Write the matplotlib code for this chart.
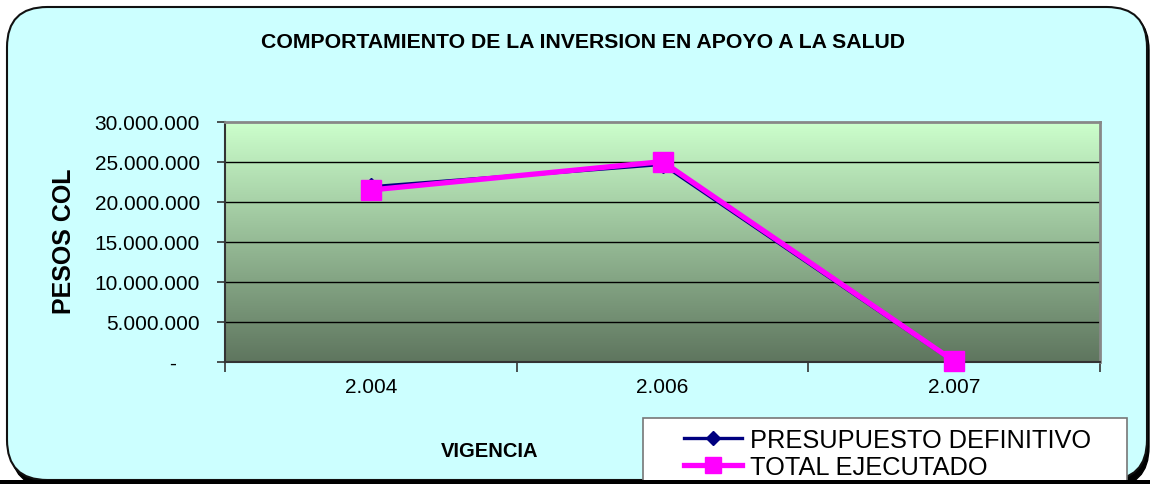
import numpy as np
import matplotlib
matplotlib.use("Agg")
import matplotlib.pyplot as plt
from matplotlib.patches import FancyBboxPatch, Rectangle
from matplotlib.ticker import FixedLocator, FuncFormatter

plt.rcParams["font.family"] = ["Liberation Sans", "DejaVu Sans"]

# Inversion en apoyo a la salud, por vigencia (pesos)
vigencias = ["2.004", "2.006", "2.007"]
presupuesto_definitivo = [21900000, 24700000, 0]
total_ejecutado = [21500000, 25050000, 100000]
y_ticks = [0, 5000000, 10000000, 15000000, 20000000, 25000000, 30000000]

W, H = 1150, 485
fig = plt.figure(figsize=(W / 100, H / 100), dpi=100)
fig.patch.set_facecolor("white")


def px(x, y):
    return x / W, 1 - y / H


# rounded chart area with a dark drop shadow
shadow = FancyBboxPatch(px(11, 488), (1149 - 11) / W, (488 - 11) / H,
                        boxstyle="round,pad=0,rounding_size=0.035",
                        transform=fig.transFigure, facecolor="black",
                        edgecolor="black", zorder=-3, mutation_aspect=W / H)
frame = FancyBboxPatch(px(7, 481), (1147 - 7) / W, (481 - 8) / H,
                       boxstyle="round,pad=0,rounding_size=0.035",
                       transform=fig.transFigure, facecolor="#CCFFFF",
                       edgecolor="#111111", linewidth=1.5, zorder=-2,
                       mutation_aspect=W / H)
fig.patches.extend([shadow, frame])

l, r, t, b = 225, 1100, 123, 363
ax = fig.add_axes([l / W, 1 - b / H, (r - l) / W, (b - t) / H])
ax.set_facecolor("none")

# vertical green gradient behind the plot
grad = np.linspace(0, 1, 256)[:, None]
top_c = np.array([0.80, 1.00, 0.80])
bot_c = np.array([0.37, 0.46, 0.37])
img = top_c * (1 - grad[..., None]) + bot_c * grad[..., None]
img = np.repeat(img, 2, axis=1)
ax.imshow(img, extent=[0, 1, 0, 1], transform=ax.transAxes,
          aspect="auto", zorder=0, interpolation="bilinear")

x = np.arange(len(vigencias))
ax.set_xlim(-0.5, len(vigencias) - 0.5)
ax.set_ylim(0, 30000000)

for v in y_ticks[1:-1]:
    ax.axhline(v, color="black", linewidth=1.0, zorder=1)

ax.plot(x, presupuesto_definitivo, color="#000080", linewidth=2.4,
        marker="D", markersize=9, zorder=3, clip_on=False,
        label="PRESUPUESTO DEFINITIVO")
ax.plot(x, total_ejecutado, color="#FF00FF", linewidth=3.8,
        marker="s", markersize=14.5, zorder=4, clip_on=False,
        label="TOTAL EJECUTADO")


def pesos(v, pos):
    if v == 0:
        return "-    "
    return f"{v:,.0f}".replace(",", ".")


ax.yaxis.set_major_locator(FixedLocator(y_ticks))
ax.yaxis.set_major_formatter(FuncFormatter(pesos))
ax.tick_params(axis="y", direction="out", length=6, width=1.2,
               color="#333333", labelsize=15, pad=12)

ax.xaxis.set_major_locator(FixedLocator(np.arange(len(vigencias) + 1) - 0.5))
ax.xaxis.set_major_formatter(FuncFormatter(lambda v, p: ""))
ax.xaxis.set_minor_locator(FixedLocator(x))
ax.set_xticklabels(vigencias, minor=True)
ax.tick_params(axis="x", which="major", direction="out", length=7,
               width=1.2, color="#333333")
ax.tick_params(axis="x", which="minor", length=0, labelsize=15, pad=11)

for side in ("top", "right"):
    ax.spines[side].set_color("#888888")
    ax.spines[side].set_linewidth(2)
for side in ("left", "bottom"):
    ax.spines[side].set_color("#333333")
    ax.spines[side].set_linewidth(1.5)
for s in ax.spines.values():
    s.set_zorder(2)

fig.text(px(583, 43)[0], px(583, 43)[1],
         "COMPORTAMIENTO DE LA INVERSION EN APOYO A LA SALUD",
         ha="center", va="center", fontsize=15.3, fontweight="bold")
fig.text(px(64, 241)[0], px(64, 241)[1], "PESOS COL", rotation=90,
         ha="center", va="center", fontsize=18, fontweight="bold")
fig.text(px(490, 452)[0], px(490, 452)[1], "VIGENCIA",
         ha="center", va="center", fontsize=14.5, fontweight="bold")

# legend box
lx0, ly0, lx1 = 643, 419, 1127
fig.patches.append(Rectangle(px(lx0, 490), (lx1 - lx0) / W, (490 - ly0) / H,
                             transform=fig.transFigure, facecolor="white",
                             edgecolor="#777777", linewidth=1.2, zorder=4))
leg = fig.legend(loc="upper left", bbox_to_anchor=px(684, 429),
                 bbox_transform=fig.transFigure, frameon=False,
                 fontsize=18.3, borderpad=0, borderaxespad=0,
                 handlelength=2.3, handletextpad=0.28, labelspacing=0.1,
                 markerscale=0.8)
leg.set_zorder(5)
fig.patches.append(Rectangle((0, 0), 1, 4 / H, transform=fig.transFigure,
                             facecolor="black", edgecolor="none", zorder=6))

fig.savefig("out.png", dpi=100)
